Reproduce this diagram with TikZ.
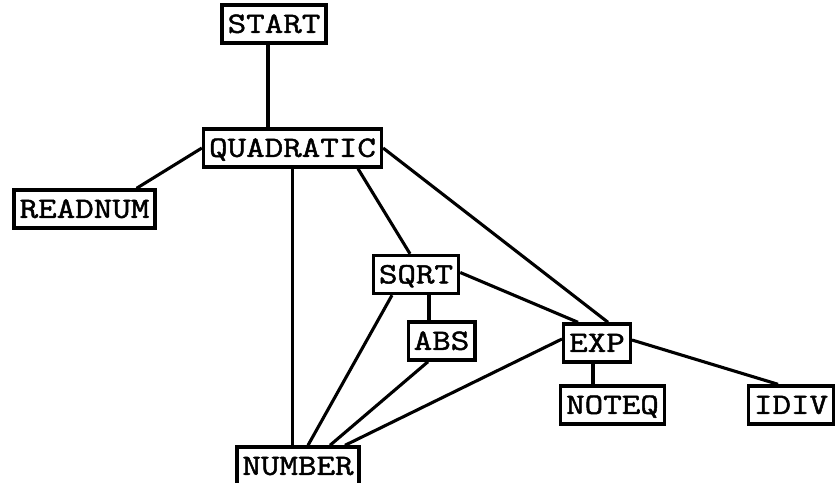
\documentclass[tikz,border=0pt]{standalone}
\usepackage{fontspec}
\setmonofont{Latin Modern Mono}[FakeStretch=1.22,FakeBold=1.6]
\begin{document}
\begin{tikzpicture}[x=1pt,y=-1pt,
  box/.style={draw, line width=3.4pt, font=\ttfamily\fontsize{29.5}{30}\selectfont,
    inner xsep=5.5pt, inner ysep=0pt, minimum height=38pt, text height=17.7pt, text depth=0pt},
  link/.style={line width=3.1pt}]
\fill[white] (0,0) rectangle (837,482);
\useasboundingbox (0,0) rectangle (837,482);
\node[box] (start) at (274,24) {START};
\node[box] (quad) at (292.5,148) {QUADRATIC};
\node[box] (readnum) at (84.5,209) {READNUM};
\node[box] (sqrt) at (416,274.5) {SQRT};
\node[box] (abs) at (441.5,341) {ABS};
\node[box] (exp) at (597,343) {EXP};
\node[box] (noteq) at (612.5,405) {NOTEQ};
\node[box] (idiv) at (791,405) {IDIV};
\node[box] (number) at (298,466) {NUMBER};
\draw[link] ([xshift=-6pt]start.south) -- ([xshift=-6pt]start.south |- quad.north);
\draw[link] (quad.west) -- ([xshift=-20pt]readnum.north east);
\draw[link] (quad.south) -- (quad.south |- number.north);
\draw[link] ([xshift=65.5pt]quad.south) -- ([xshift=-6pt]sqrt.north);
\draw[link] (quad.east) -- ([xshift=11pt]exp.north);
\draw[link] ([yshift=2pt]sqrt.east) -- ([xshift=-19pt]exp.north);
\draw[link] ([xshift=13pt]sqrt.south) -- ([xshift=13pt]sqrt.south |- abs.north);
\draw[link] ([xshift=-24pt]sqrt.south) -- ([xshift=10pt]number.north);
\draw[link] ([xshift=-13.5pt]abs.south) -- ([xshift=32pt]number.north);
\draw[link] ([yshift=4pt]exp.west) -- ([xshift=47pt]number.north);
\draw[link] ([xshift=-4pt]exp.south) -- ([xshift=-4pt]exp.south |- noteq.north);
\draw[link] ([yshift=3pt]exp.east) -- ([xshift=-13pt]idiv.north);
\end{tikzpicture}
\end{document}
